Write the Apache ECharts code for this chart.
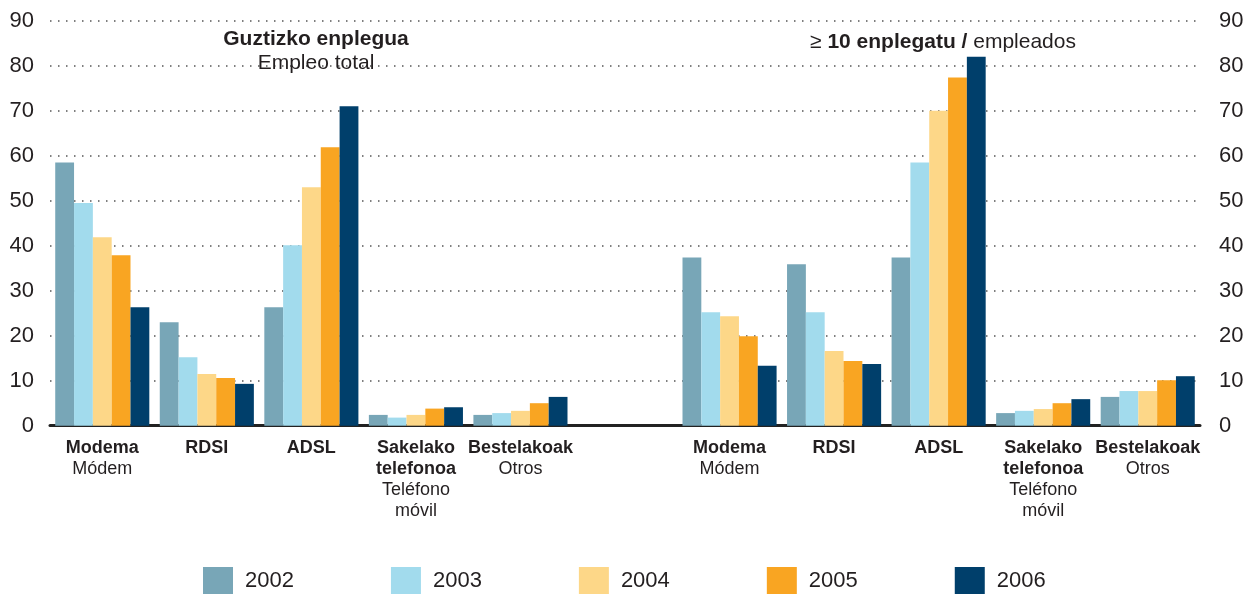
<!DOCTYPE html>
<html>
<head>
<meta charset="utf-8">
<script src="https://cdn.jsdelivr.net/npm/echarts@6/dist/echarts.min.js"></script>
<style>
  html, body { margin: 0; padding: 0; background: #fff; }
  #main { width: 1255px; height: 594px; }
</style>
</head>
<body>
<div id="main"></div>
<script>
// kategoriak: ezkerrean guztizko enplegua, eskuinean >= 10 enplegatu
var categories = [
  ['Modema', 'Módem'], ['RDSI'], ['ADSL'], ['Sakelako', 'telefonoa', 'Teléfono', 'móvil'], ['Bestelakoak', 'Otros'],
  null,
  ['Modema', 'Módem'], ['RDSI'], ['ADSL'], ['Sakelako', 'telefonoa', 'Teléfono', 'móvil'], ['Bestelakoak', 'Otros']
];
var years = ['2002', '2003', '2004', '2005', '2006'];
var colors = ['#78a6b7', '#a2dbed', '#fdd788', '#f9a522', '#003f6b'];

var v2002 = [58.5, 23.0, 26.3, 2.4, 2.4, '-', 37.4, 35.9, 37.4, 2.8, 6.4];
var v2003 = [49.5, 15.2, 40.1, 1.8, 2.8, '-', 25.2, 25.2, 58.5, 3.3, 7.7];
var v2004 = [41.9, 11.5, 53.0, 2.4, 3.3, '-', 24.3, 16.6, 70.0, 3.7, 7.7];
var v2005 = [37.9, 10.6, 61.9, 3.8, 5.0, '-', 19.9, 14.4, 77.4, 5.0, 10.1];
var v2006 = [26.3, 9.3, 71.0, 4.1, 6.4, '-', 13.3, 13.7, 82.0, 5.9, 11.0];
var values = [v2002, v2003, v2004, v2005, v2006];

var yTicks = [0, 90, 10]; // min, max, interval

var myChart = echarts.init(document.getElementById('main'));

var font = '"Liberation Sans", Arial, sans-serif';

// label testua: lehen lerroak lodiak (euskara), gainerakoak arruntak
function catLabel(val, idx) {
  var c = categories[idx];
  if (!c) return '';
  if (c.length == 4) {
    return '{b|' + c[0] + '}\n{b|' + c[1] + '}\n{r|' + c[2] + '}\n{r|' + c[3] + '}';
  }
  if (c.length == 2) return '{b|' + c[0] + '}\n{r|' + c[1] + '}';
  return '{b|' + c[0] + '}';
}

var series = years.map(function (y, i) {
  return {
    name: y,
    type: 'bar',
    data: values[i],
    barGap: 0,
    barCategoryGap: '10%',
    itemStyle: { color: colors[i] }
  };
});

var titleRich = {
  b: { fontFamily: font, fontWeight: 'bold', fontSize: 21, color: '#231f20', lineHeight: 24 },
  r: { fontFamily: font, fontWeight: 'normal', fontSize: 21, color: '#231f20', lineHeight: 24 }
};

myChart.setOption({
  animation: false,
  textStyle: { fontFamily: font },
  title: [
    {
      text: '{b|Guztizko enplegua}\n{r|Empleo total}',
      left: 311, top: 22, textAlign: 'center',
      textStyle: { fontWeight: 'normal', rich: titleRich }
    },
    {
      text: '{r|≥ }{b|10 enplegatu /}{r| empleados}',
      left: 938, top: 25, textAlign: 'center',
      textStyle: { fontWeight: 'normal', rich: titleRich }
    }
  ],
  legend: {
    data: years,
    left: 203, top: 567,
    padding: 0,
    icon: 'rect',
    itemWidth: 30, itemHeight: 27,
    itemGap: 97,
    textStyle: { fontFamily: font, fontSize: 22, color: '#231f20', padding: [0, 0, 0, 7] }
  },
  grid: { left: 50, right: 55, top: 20.7, bottom: 168.3, containLabel: false },
  xAxis: {
    type: 'category',
    data: categories.map(function (c, i) { return 'c' + i; }),
    axisLine: { lineStyle: { color: '#222', width: 3 } },
    axisTick: { show: false },
    axisLabel: {
      interval: 0,
      margin: 12,
      formatter: catLabel,
      rich: {
        b: { fontFamily: font, fontWeight: 'bold', fontSize: 18, color: '#231f20', lineHeight: 21, align: 'center' },
        r: { fontFamily: font, fontSize: 18, color: '#231f20', lineHeight: 21, align: 'center' }
      }
    }
  },
  yAxis: [
    {
      type: 'value', min: yTicks[0], max: yTicks[1], interval: yTicks[2],
      axisLine: { show: false }, axisTick: { show: false },
      axisLabel: { fontFamily: font, fontSize: 22, color: '#231f20', margin: 16 },
      splitLine: { lineStyle: { color: '#555', width: 1.5, type: [1.5, 6.5] } }
    },
    {
      type: 'value', position: 'right', min: yTicks[0], max: yTicks[1], interval: yTicks[2],
      axisLine: { show: false }, axisTick: { show: false },
      axisLabel: { fontFamily: font, fontSize: 22, color: '#231f20', margin: 19 },
      splitLine: { show: false }
    }
  ],
  series: series
});
</script>
</body>
</html>
